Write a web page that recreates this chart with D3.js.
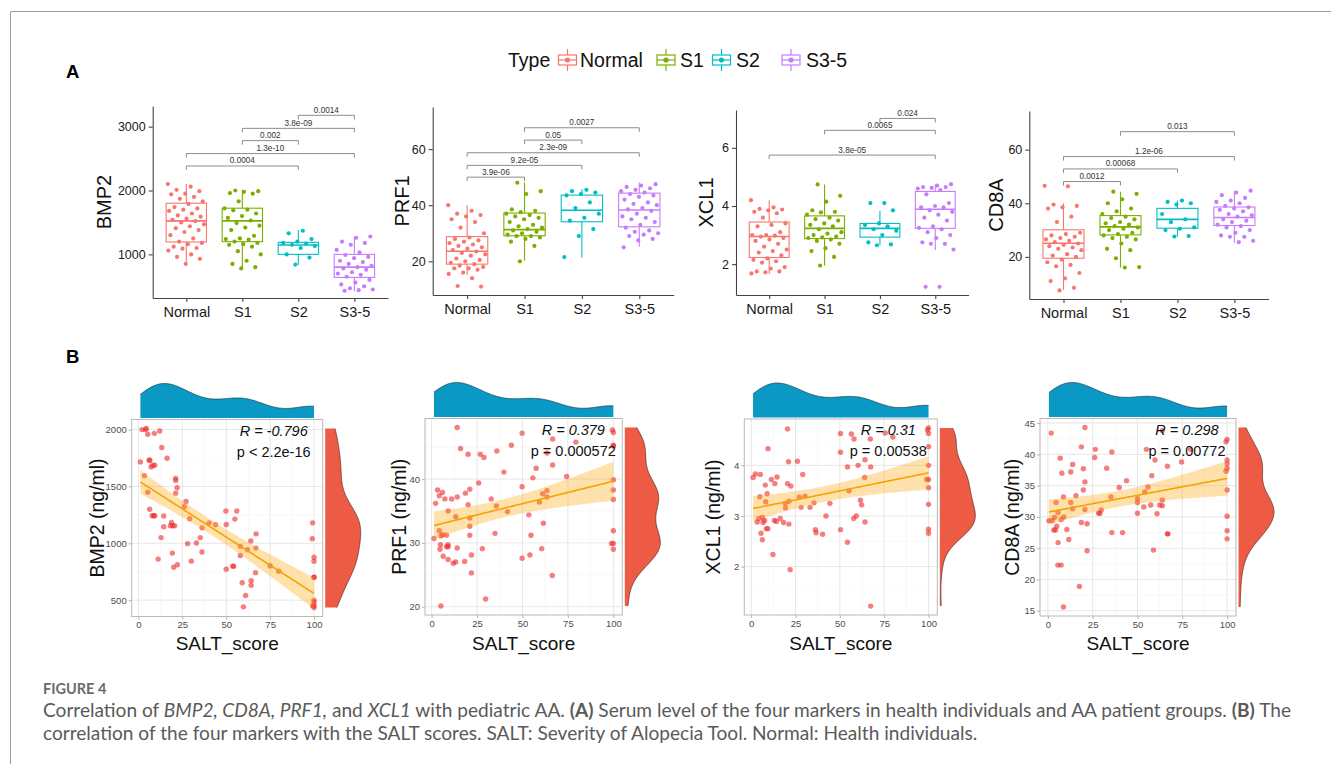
<!DOCTYPE html>
<html>
<head>
<meta charset="utf-8">
<script src="https://cdn.jsdelivr.net/npm/d3@7"></script>
<style>
  body { margin: 0; background: #fff; }
  svg { display: block; font-family: "Liberation Sans", Arial, sans-serif; }
</style>
</head>
<body>
<svg id="fig" width="1331" height="764"></svg>
<script>
// ---- groups ----
const groups = ["Normal", "S1", "S2", "S3-5"];
const groupColors = ["#F8766D", "#7CAE00", "#00BFC4", "#C77CFF"];

// ---- panel A: serum levels by group (points) ----
const bmp2Normal = [2100, 2060, 2010, 1990, 1950, 1940, 1900, 1870, 1830, 1790, 1740, 1720, 1700, 1680, 1640, 1610, 1590, 1560, 1540, 1520, 1500, 1470, 1440, 1410, 1380, 1350, 1300, 1250, 1200, 1180, 1160, 1120, 1100, 1090, 1060, 1000, 960, 930, 850];
const bmp2S1 = [2000, 1990, 1980, 1960, 1950, 1830, 1720, 1700, 1690, 1640, 1600, 1570, 1530, 1490, 1450, 1420, 1380, 1290, 1250, 1240, 1230, 1200, 1180, 1160, 1150, 1120, 1050, 1000, 900, 850, 800, 780];
const bmp2S2 = [1370, 1330, 1240, 1200, 1180, 1170, 1150, 1130, 1100, 1000, 950, 840];
const bmp2S35 = [1280, 1260, 1200, 1180, 1150, 1070, 1030, 990, 960, 940, 900, 880, 850, 820, 800, 780, 760, 720, 700, 680, 650, 600, 560, 530, 500, 470, 450, 440, 430];

const prf1Normal = [40, 38, 37, 36.5, 36, 35, 34, 32, 30, 28.5, 28, 27.5, 27, 26.5, 26, 25.5, 25, 24.5, 24, 23.5, 23, 22.5, 22, 21, 20.5, 20, 19.5, 19, 18.5, 18, 17.5, 17.5, 17, 16, 15.5, 14, 11.2, 11];
const prf1S1 = [48, 45, 44, 38.5, 38, 37.5, 37, 36.5, 36, 35.5, 35, 34, 33, 32.5, 32, 31.5, 31, 30.5, 30, 29.5, 29, 29, 28.5, 28, 27, 25.5, 20];
const prf1S2 = [45.5, 45, 44.5, 44, 43.5, 41, 39, 37, 35.5, 34.5, 31.5, 29, 21.5];
const prf1S35 = [47.5, 47, 46.5, 46, 45.5, 45, 44.5, 44, 43.5, 43, 42, 41, 40.5, 40, 39, 38.5, 38, 37, 36, 35.5, 35, 34, 33, 32, 31, 30.5, 30, 29.5, 29, 28, 27.5, 25];

const xcl1Normal = [4.2, 3.95, 3.9, 3.88, 3.85, 3.8, 3.75, 3.6, 3.4, 3.35, 3.3, 3.1, 3.0, 3.0, 2.98, 2.95, 2.9, 2.85, 2.8, 2.7, 2.6, 2.5, 2.45, 2.4, 2.3, 2.2, 2.15, 2.1, 2.05, 1.9, 1.85, 1.75, 1.75, 1.72, 1.68];
const xcl1S1 = [4.74, 4.35, 4.15, 3.85, 3.8, 3.78, 3.7, 3.6, 3.55, 3.5, 3.4, 3.35, 3.3, 3.2, 3.1, 3.05, 3.0, 2.95, 2.92, 2.9, 2.85, 2.8, 2.7, 2.55, 2.45, 2.25, 1.95];
const xcl1S2 = [4.1, 4.1, 3.85, 3.4, 3.35, 3.3, 3.2, 3.15, 3.0, 2.75, 2.68, 2.65];
const xcl1S35 = [4.75, 4.7, 4.65, 4.65, 4.62, 4.6, 4.55, 4.4, 4.1, 4.0, 3.95, 3.95, 3.85, 3.8, 3.7, 3.6, 3.5, 3.3, 3.25, 3.2, 3.1, 3.0, 2.9, 2.75, 2.7, 2.7, 2.5, 1.22, 1.22];

const cd8aNormal = [46.5, 46.3, 39.5, 39, 38.5, 38, 35, 33, 29, 28.5, 28, 27.5, 27, 26.5, 26, 25.5, 25, 24.5, 24, 23.5, 23, 22.5, 21, 20.5, 20, 19, 18, 17, 16.5, 14, 12, 11, 8.5, 7.5];
const cd8aS1 = [44.3, 43.5, 41.5, 40, 38, 37, 36, 35, 34.5, 34, 33, 32.5, 32, 31.5, 31, 30.5, 30, 29, 28.5, 28, 27.5, 27, 26.5, 25, 23, 22.5, 19.5, 16.2, 16];
const cd8aS2 = [41, 40.5, 40, 39.5, 36, 34, 33, 31, 30.5, 30, 27.8, 27.6];
const cd8aS35 = [44.7, 44, 43, 42, 41, 40.5, 40, 39, 38.5, 38, 37.5, 37, 36, 35.5, 35, 34, 33.5, 33, 32, 31.5, 31, 30, 29, 28, 27.5, 27.5, 26, 25.5];

// box stats per group: [q1, median, q3, lower whisker, upper whisker]
const bmp2Box = [[1194, 1524, 1801, 848, 2100], [1199, 1524, 1723, 780, 2010], [1000, 1147, 1188, 832, 1382], [639, 801, 1000, 424, 1277]];
const prf1Box = [[19.0, 23.6, 28.8, 15.1, 40], [29.1, 31.3, 37.2, 20.2, 48.1], [34.1, 38.2, 43.6, 21.4, 45.7], [32.3, 38.3, 44.3, 25.2, 48.1]];
const xcl1Box = [[2.23, 2.95, 3.45, 1.66, 4.2], [2.88, 3.23, 3.66, 1.95, 4.74], [2.93, 3.23, 3.40, 2.66, 3.83], [3.23, 3.89, 4.50, 2.49, 4.74]];
const cd8aBox = [[19.5, 25.1, 30.1, 7.7, 40], [28.2, 31.2, 35.4, 16.0, 44.3], [30.7, 34.0, 38.1, 27.6, 41], [31.7, 34.7, 38.6, 25.3, 44.7]];

// y ticks and comparison brackets [from, to, level, p label]
const bmp2Ticks = [1000, 2000, 3000];
const prf1Ticks = [20, 40, 60];
const xcl1Ticks = [2, 4, 6];
const cd8aTicks = [20, 40, 60];
const bmp2Pairs = [["Normal", "S2", 2384, "0.0004"], ["Normal", "S3-5", 2578, "1.3e-10"], ["S1", "S2", 2781, "0.002"], ["S1", "S3-5", 2973, "3.8e-09"], ["S2", "S3-5", 3177, "0.0014"]];
const prf1Pairs = [["Normal", "S1", 50, "3.9e-06"], ["Normal", "S2", 54.2, "9.2e-05"], ["Normal", "S3-5", 58.7, "2.3e-09"], ["S1", "S2", 63.2, "0.05"], ["S1", "S3-5", 67.6, "0.0027"]];
const xcl1Pairs = [["Normal", "S3-5", 5.75, "3.8e-05"], ["S1", "S3-5", 6.6, "0.0065"], ["S2", "S3-5", 7.01, "0.024"]];
const cd8aPairs = [["Normal", "S1", 48.1, "0.0012"], ["Normal", "S2", 52.8, "0.00068"], ["Normal", "S3-5", 57.4, "1.2e-06"], ["S1", "S3-5", 66.7, "0.013"]];

// ---- panel B: SALT score vs serum level ----
const saltBmp2 = [2.1, 4, 4.5, 5.3, 9.1, 12.1, 1.1, 6.1, 6.5, 7.2, 8.1, 9.3, 13.3, 16.3, 3.4, 5.3, 21.2, 21.2, 22, 21.2, 6.4, 7.8, 8.7, 9.3, 14.4, 14.4, 12.9, 18.8, 19.5, 20.6, 18.2, 27.1, 26.1, 29.2, 28, 19.3, 11.2, 22.2, 20.1, 30.1, 33, 35.2, 36.2, 36.2, 40.3, 43.9, 49.8, 50, 56, 54.9, 50, 53.8, 54.2, 58, 58, 62.1, 64, 67, 66.9, 59.1, 64.2, 64.2, 61, 59.8, 66.7, 75, 79.9, 99.2, 99, 100, 100, 100, 100, 100, 100, 99.2, 100, 100];
const bmp2Level = [2000, 2000, 2010, 1959, 1967, 1988, 1716, 1730, 1730, 1672, 1686, 1686, 1843, 1748, 1595, 1450, 1571, 1553, 1488, 1441, 1299, 1242, 1242, 1242, 1240, 1145, 1050, 1183, 1154, 1154, 1154, 1367, 1322, 1216, 997, 914, 861, 811, 790, 843, 1003, 1050, 923, 1136, 1180, 1163, 1284, 1165, 1284, 1213, 772, 799, 799, 973, 893, 944, 1021, 1083, 958, 653, 671, 630, 541, 441, 742, 802, 755, 1180, 1041, 878, 843, 701, 701, 500, 479, 450, 450, 435];

const saltPrf1 = [1.3, 2.2, 3.3, 4.2, 6, 7.3, 4.2, 5.1, 6.2, 8.2, 4.9, 4.6, 6.4, 8.2, 9.1, 9, 9.1, 9.1, 5.1, 11, 11.9, 13.3, 13.3, 14.1, 14.1, 15.9, 14.1, 18.2, 18.6, 20.1, 20.1, 21, 21, 21, 21, 21.9, 21.9, 25.9, 26.8, 28.8, 27.9, 29.7, 32.8, 35.9, 35.6, 34.9, 39.8, 41.8, 43.9, 49.8, 49.8, 49.8, 53.5, 54.1, 54.7, 55.7, 57.5, 61.1, 59.3, 60.6, 61.5, 63.5, 63.5, 63.5, 66.6, 66.6, 66.4, 74.3, 79.4, 99.5, 100, 100, 100, 100, 100, 100, 100, 99, 100, 100];
const prf1Level = [30.7, 36.2, 38.3, 37.4, 37.9, 36.9, 31.9, 31.1, 31.3, 31.2, 29.7, 29, 27.9, 29.4, 29.4, 29.7, 27.4, 35, 20.1, 36.9, 26.8, 27, 34.1, 37.2, 29.2, 44.8, 48.1, 27.1, 37.8, 36, 43.9, 38.4, 33.9, 32.6, 31.2, 28.1, 25.3, 39.4, 43.9, 43.4, 29.1, 21.2, 36.9, 44.4, 35.8, 31.5, 41.1, 34.9, 45.3, 47.2, 38.8, 27.6, 34.4, 28.1, 31.2, 40.2, 41.7, 37.7, 36.4, 29.1, 33.1, 44.1, 38.2, 37.2, 46.3, 42.2, 24.9, 40.4, 45.8, 47.7, 47.3, 45.3, 45.2, 39.9, 38.3, 36.8, 31.9, 29.9, 29.9, 29];

const saltXcl1 = [1.1, 2.4, 4.9, 3.4, 4.3, 5.2, 5.6, 6.3, 6.3, 6.7, 7.6, 8, 8.2, 9, 8.6, 9.5, 9.5, 11.4, 12.3, 13.4, 13.1, 14.6, 14.2, 16.4, 18.3, 19.2, 19.4, 20.5, 20.5, 21.1, 21.3, 21.3, 22, 22.4, 26.1, 27.2, 28.2, 29.1, 30.4, 33.2, 35.4, 36.2, 36.6, 40.3, 42.2, 44.4, 50.4, 50.4, 50.4, 54.3, 54.3, 55.2, 56.5, 58, 57.8, 59.3, 60.3, 61.6, 62.3, 64, 64.2, 64.2, 67.2, 67.4, 67.4, 75.6, 79.9, 99.4, 100, 100, 100, 100, 99, 100, 100, 100, 100, 100];
const xcl1Level = [3.76, 3.83, 3.38, 2.88, 2.95, 3.82, 2.66, 2.97, 2.53, 2.87, 2.91, 3.61, 3.28, 3.44, 2.75, 2.75, 4.33, 3.72, 2.24, 3.64, 2.91, 3.77, 2.89, 2.95, 2.87, 3.25, 3.16, 4.72, 3.64, 4.07, 3.29, 2.84, 1.94, 3.59, 4.08, 3.37, 3.17, 3.82, 3.39, 3.17, 3.26, 2.73, 2.67, 2.64, 3, 3.25, 4.63, 4.26, 2.73, 3.97, 2.48, 3.5, 4.62, 4.52, 2.95, 3, 4, 3.31, 3.22, 3.76, 4.11, 2.88, 4.52, 3.97, 1.22, 4.64, 4.56, 4.70, 4.74, 4.63, 4.37, 4.0, 3.72, 3.72, 3.56, 3.23, 2.74, 2.66];

const saltCd8a = [0.6, 1.9, 2.4, 3.3, 4.3, 3.7, 4.6, 5, 5.7, 5.7, 5.6, 7.4, 6.9, 7.8, 7.4, 8.7, 8.9, 8.7, 10.6, 11.7, 12.8, 12.8, 13.9, 13.9, 15.7, 17.6, 18.7, 18.7, 19.8, 19.8, 20.7, 20.7, 20.7, 21.9, 21.9, 26.5, 26.1, 28.3, 29.1, 29.8, 32.8, 35.7, 35.2, 35.7, 39.8, 41.7, 43.9, 50, 50, 50, 53.5, 54.1, 55, 55.9, 57.4, 58, 58.9, 59.8, 60.9, 62.4, 63.9, 63.9, 63.9, 66.7, 66.7, 67, 74.6, 79.6, 99.4, 100, 100, 100, 100, 99.4, 100, 100, 100, 100];
const cd8aLevel = [29.4, 43.4, 29.4, 27.9, 27.9, 29.9, 32.3, 28.5, 30.7, 25.9, 22.3, 22.3, 39.4, 37, 29.6, 33.2, 30, 15.6, 28, 26.4, 37.2, 32.3, 38.4, 31.3, 33.4, 18.9, 41.2, 29.1, 37.7, 34.3, 44.3, 35.6, 31.2, 28.9, 24.6, 40.8, 39.5, 30.6, 30.6, 31.1, 37.8, 40.4, 33.2, 27.5, 34.7, 27.5, 35.8, 32.9, 32.3, 30.6, 31.6, 34, 40.8, 34.8, 31.9, 36.6, 24.7, 39.1, 30.5, 31.9, 43.8, 32.7, 31.8, 38.1, 27.3, 27.3, 38.8, 40.8, 42, 42.4, 39.1, 38.5, 37.8, 37.3, 34.3, 30.1, 27.8, 26.5];

const saltTicks = [0, 25, 50, 75, 100];
const bmp2LevelTicks = [500, 1000, 1500, 2000];
const prf1LevelTicks = [20, 30, 40];
const xcl1LevelTicks = [2, 3, 4];
const cd8aLevelTicks = [15, 20, 25, 30, 35, 40, 45];
const corrLabels = [["R = -0.796", "p < 2.2e-16"], ["R = 0.379", "p = 0.000572"], ["R = 0.31", "p = 0.00538"], ["R = 0.298", "p = 0.00772"]];

const svg = d3.select("#fig");
const plain = d => String(d);

// figure frame (top + left rule)
svg.append("line").attr("x1", 10.5).attr("x2", 1331).attr("y1", 11.5).attr("y2", 11.5).attr("stroke", "#9a9a9a");
svg.append("line").attr("x1", 10.5).attr("x2", 10.5).attr("y1", 11.5).attr("y2", 764).attr("stroke", "#9a9a9a");

// panel letters
svg.append("text").attr("x", 66).attr("y", 77.5).attr("font-size", 18.5).attr("font-weight", "bold").text("A");
svg.append("text").attr("x", 66).attr("y", 363).attr("font-size", 18.5).attr("font-weight", "bold").text("B");

// ---- legend ----
const legend = svg.append("g");
legend.append("text").attr("x", 508).attr("y", 67).attr("font-size", 19.5).attr("fill", "#111").text("Type");
const legendKeyX = [567.5, 666, 721.5, 791];
const legendTextX = [580, 680, 736, 806];
groups.forEach((grp, i) => {
  const cx = legendKeyX[i], cy = 60, c = groupColors[i];
  const k = legend.append("g").attr("stroke", c).attr("stroke-width", 1.2);
  k.append("line").attr("x1", cx).attr("x2", cx).attr("y1", cy - 11).attr("y2", cy - 5);
  k.append("line").attr("x1", cx).attr("x2", cx).attr("y1", cy + 5).attr("y2", cy + 11);
  k.append("rect").attr("x", cx - 9).attr("y", cy - 5).attr("width", 18).attr("height", 10).attr("fill", "#fff");
  k.append("line").attr("x1", cx - 9).attr("x2", cx + 9).attr("y1", cy).attr("y2", cy);
  legend.append("circle").attr("cx", cx).attr("cy", cy).attr("r", 2.6).attr("fill", c);
  legend.append("text").attr("x", legendTextX[i]).attr("y", 67).attr("font-size", 19.5).attr("fill", "#111").text(grp);
});

// ---- panel A: box plots ----
function drawBoxPanel(cfg) {
  const g = svg.append("g");
  const x = d3.scalePoint().domain(groups).range([cfg.left, cfg.right]).padding(0.6);
  const y = d3.scaleLinear().domain(cfg.domain).range([cfg.bottom, cfg.top]);
  const step = x.step();
  const bw = step * 0.72;

  const xa = g.append("g").attr("transform", `translate(0,${cfg.bottom})`)
    .call(d3.axisBottom(x).tickSize(4).tickSizeOuter(0).tickPadding(5));
  xa.selectAll("text").attr("font-size", 14.5).attr("fill", "#1a1a1a").attr("font-family", "Liberation Sans, Arial, sans-serif");
  const ya = g.append("g").attr("transform", `translate(${cfg.left},0)`)
    .call(d3.axisLeft(y).tickValues(cfg.ticks).tickFormat(plain).tickSize(4).tickSizeOuter(0).tickPadding(3));
  ya.selectAll("text").attr("font-size", 12.5).attr("fill", "#1a1a1a").attr("font-family", "Liberation Sans, Arial, sans-serif");
  g.selectAll(".domain, .tick line").attr("stroke", "#444").attr("stroke-width", 1.1);

  g.append("text")
    .attr("transform", `translate(${cfg.titleX},${(cfg.top + cfg.bottom) / 2}) rotate(-90)`)
    .attr("text-anchor", "middle").attr("font-size", 20).attr("fill", "#111").text(cfg.title);

  // boxes
  cfg.box.forEach((b, i) => {
    const cx = x(groups[i]), c = groupColors[i];
    const bg = g.append("g").attr("stroke", c).attr("stroke-width", 1.1).attr("fill", "none");
    bg.append("line").attr("x1", cx).attr("x2", cx).attr("y1", y(b[3])).attr("y2", y(b[0]));
    bg.append("line").attr("x1", cx).attr("x2", cx).attr("y1", y(b[2])).attr("y2", y(b[4]));
    bg.append("rect").attr("x", cx - bw / 2).attr("width", bw)
      .attr("y", y(b[2])).attr("height", y(b[0]) - y(b[2])).attr("fill", "#fff");
    bg.append("line").attr("x1", cx - bw / 2).attr("x2", cx + bw / 2)
      .attr("y1", y(b[1])).attr("y2", y(b[1])).attr("stroke-width", 1.6);
  });

  // jittered points
  cfg.values.forEach((vals, i) => {
    const cx = x(groups[i]);
    g.append("g").selectAll("circle").data(vals).join("circle")
      .attr("cx", (d, j) => cx + (((j * 0.6180339887 + i * 0.31) % 1) - 0.5) * step * 0.66)
      .attr("cy", d => y(d))
      .attr("r", 2.1)
      .attr("fill", groupColors[i]);
  });

  // significance brackets
  cfg.pairs.forEach(p => {
    const x1 = x(p[0]), x2 = x(p[1]), yy = y(p[2]);
    g.append("path").attr("d", `M${x1},${yy + 4}V${yy}H${x2}V${yy + 4}`)
      .attr("fill", "none").attr("stroke", "#808080").attr("stroke-width", 0.9);
    g.append("text").attr("x", (x1 + x2) / 2).attr("y", yy - 2.5).attr("text-anchor", "middle")
      .attr("font-size", 8.2).attr("fill", "#333").text(p[3]);
  });
}

drawBoxPanel({ left: 152.7, right: 388, top: 106, bottom: 298, domain: [317, 3323], ticks: bmp2Ticks, title: "BMP2", titleX: 110.7,
  box: bmp2Box, values: [bmp2Normal, bmp2S1, bmp2S2, bmp2S35], pairs: bmp2Pairs });
drawBoxPanel({ left: 432.7, right: 673.7, top: 107, bottom: 295, domain: [8, 75], ticks: prf1Ticks, title: "PRF1", titleX: 409,
  box: prf1Box, values: [prf1Normal, prf1S1, prf1S2, prf1S35], pairs: prf1Pairs });
drawBoxPanel({ left: 736, right: 968.5, top: 110, bottom: 295, domain: [0.94, 7.3], ticks: xcl1Ticks, title: "XCL1", titleX: 712.7,
  box: xcl1Box, values: [xcl1Normal, xcl1S1, xcl1S2, xcl1S35], pairs: xcl1Pairs });
drawBoxPanel({ left: 1029.3, right: 1268.6, top: 111, bottom: 299, domain: [4.3, 74.4], ticks: cd8aTicks, title: "CD8A", titleX: 1003,
  box: cd8aBox, values: [cd8aNormal, cd8aS1, cd8aS2, cd8aS35], pairs: cd8aPairs });

// ---- panel B: scatter + regression + marginal densities ----
function bwNrd0(v) {
  const s = v.slice().sort(d3.ascending);
  const sd = d3.deviation(s);
  const iqr = d3.quantileSorted(s, 0.75) - d3.quantileSorted(s, 0.25);
  const lo = Math.min(sd, iqr / 1.34) || sd;
  return 0.9 * lo * Math.pow(s.length, -0.2);
}
function kde(v) {
  const bw = bwNrd0(v), e = d3.extent(v);
  return d3.range(256).map(k => {
    const t = e[0] + (e[1] - e[0]) * k / 255;
    return [t, d3.mean(v, d => Math.exp(-0.5 * ((t - d) / bw) ** 2)) / bw];
  });
}
function minorBreaks(ticks, dom) {
  const st = ticks[1] - ticks[0];
  const m = [ticks[0] - st / 2].concat(ticks.map(t => t + st / 2));
  return m.filter(v => v > dom[0] && v < dom[1]);
}

function drawScatterPanel(cfg) {
  const g = svg.append("g");
  const xs = cfg.salt, ys = cfg.level;
  const xe = d3.extent(xs), ye = d3.extent(ys);
  const xp = (xe[1] - xe[0]) * 0.05, yp = (ye[1] - ye[0]) * 0.05;
  const x = d3.scaleLinear().domain([xe[0] - xp, xe[1] + xp]).range([cfg.left, cfg.right]);
  const y = d3.scaleLinear().domain([ye[0] - yp, ye[1] + yp]).range([cfg.bottom, cfg.top]);

  // grid
  const grid = g.append("g");
  minorBreaks(saltTicks, x.domain()).forEach(v => grid.append("line").attr("x1", x(v)).attr("x2", x(v))
    .attr("y1", cfg.top).attr("y2", cfg.bottom).attr("stroke", "#f3f3f3").attr("stroke-width", 0.6));
  minorBreaks(cfg.ticks, y.domain()).forEach(v => grid.append("line").attr("y1", y(v)).attr("y2", y(v))
    .attr("x1", cfg.left).attr("x2", cfg.right).attr("stroke", "#f3f3f3").attr("stroke-width", 0.6));
  saltTicks.forEach(v => grid.append("line").attr("x1", x(v)).attr("x2", x(v))
    .attr("y1", cfg.top).attr("y2", cfg.bottom).attr("stroke", "#e4e4e4").attr("stroke-width", 0.9));
  cfg.ticks.forEach(v => grid.append("line").attr("y1", y(v)).attr("y2", y(v))
    .attr("x1", cfg.left).attr("x2", cfg.right).attr("stroke", "#e4e4e4").attr("stroke-width", 0.9));

  // axes (ticks + labels only)
  const xa = g.append("g").attr("transform", `translate(0,${cfg.bottom})`)
    .call(d3.axisBottom(x).tickValues(saltTicks).tickFormat(plain).tickSize(3).tickPadding(2));
  const ya = g.append("g").attr("transform", `translate(${cfg.left},0)`)
    .call(d3.axisLeft(y).tickValues(cfg.ticks).tickFormat(plain).tickSize(3).tickPadding(2));
  [xa, ya].forEach(a => {
    a.select(".domain").remove();
    a.selectAll(".tick line").attr("stroke", "#b3b3b3");
    a.selectAll("text").attr("font-size", 9.5).attr("fill", "#4d4d4d").attr("font-family", "Liberation Sans, Arial, sans-serif");
  });

  // regression fit with 95% band
  const n = xs.length, mx = d3.mean(xs), my = d3.mean(ys);
  const sxx = d3.sum(xs, v => (v - mx) ** 2);
  const sxy = d3.sum(xs, (v, i) => (v - mx) * (ys[i] - my));
  const b = sxy / sxx, a = my - b * mx;
  const s = Math.sqrt(d3.sum(xs, (v, i) => (ys[i] - a - b * v) ** 2) / (n - 2));
  const tq = 1.99;
  const fit = d3.range(81).map(k => {
    const v = xe[0] + (xe[1] - xe[0]) * k / 80;
    const se = s * Math.sqrt(1 / n + (v - mx) ** 2 / sxx);
    return { v, f: a + b * v, lo: a + b * v - tq * se, hi: a + b * v + tq * se };
  });

  // points
  g.append("g").selectAll("circle").data(xs).join("circle")
    .attr("cx", d => x(d)).attr("cy", (d, i) => y(ys[i])).attr("r", 2.7)
    .attr("fill", "#ee2a2a").attr("fill-opacity", 0.6);

  g.append("path").datum(fit)
    .attr("d", d3.area().x(d => x(d.v)).y0(d => y(d.lo)).y1(d => y(d.hi)))
    .attr("fill", "#ffa500").attr("fill-opacity", 0.33);
  g.append("path").datum(fit)
    .attr("d", d3.line().x(d => x(d.v)).y(d => y(d.f)))
    .attr("fill", "none").attr("stroke", "#f5a300").attr("stroke-width", 1.6);

  // panel border
  g.append("rect").attr("x", cfg.left).attr("y", cfg.top).attr("width", cfg.right - cfg.left)
    .attr("height", cfg.bottom - cfg.top).attr("fill", "none").attr("stroke", "#b8b8b8").attr("stroke-width", 1);

  // correlation text
  const cx = cfg.right - 49;
  g.append("text").attr("x", cx).attr("y", cfg.top + 16).attr("text-anchor", "middle")
    .attr("font-size", 14.5).attr("font-style", "italic").attr("fill", "#111").text(cfg.labels[0]);
  g.append("text").attr("x", cx).attr("y", cfg.top + 37).attr("text-anchor", "middle")
    .attr("font-size", 14.5).attr("fill", "#111").text(cfg.labels[1]);

  // axis titles
  g.append("text").attr("x", (cfg.left + cfg.right) / 2).attr("y", 650).attr("text-anchor", "middle")
    .attr("font-size", 19).attr("fill", "#111").text("SALT_score");
  g.append("text").attr("transform", `translate(${cfg.titleX},${(cfg.top + cfg.bottom) / 2}) rotate(-90)`)
    .attr("text-anchor", "middle").attr("font-size", 19.5).attr("fill", "#111").text(cfg.title);

  // top marginal density (SALT score)
  const dx = kde(xs);
  const hy = d3.scaleLinear().domain([0, d3.max(dx, d => d[1])]).range([cfg.top - 1.5, cfg.top - 36]);
  g.append("path").datum(dx)
    .attr("d", d3.area().x(d => x(d[0])).y0(hy(0)).y1(d => hy(d[1])))
    .attr("fill", "#0a98c4");
  g.append("path").datum(dx)
    .attr("d", d3.line().x(d => x(d[0])).y(d => hy(d[1])))
    .attr("fill", "none").attr("stroke", "#1d3a48").attr("stroke-width", 0.7);

  // right marginal density (level)
  const dy = kde(ys);
  const wx = d3.scaleLinear().domain([0, d3.max(dy, d => d[1])]).range([cfg.right + 2.5, cfg.right + 38]);
  g.append("path").datum(dy)
    .attr("d", d3.area().y(d => y(d[0])).x0(wx(0)).x1(d => wx(d[1])))
    .attr("fill", "#ee5b45");
  g.append("path").datum(dy)
    .attr("d", d3.line().y(d => y(d[0])).x(d => wx(d[1])))
    .attr("fill", "none").attr("stroke", "#4a2a25").attr("stroke-width", 0.7);
}

drawScatterPanel({ left: 131.7, right: 322.7, top: 419.5, bottom: 616.5, salt: saltBmp2, level: bmp2Level,
  ticks: bmp2LevelTicks, title: "BMP2 (ng/ml)", titleX: 104, labels: corrLabels[0] });
drawScatterPanel({ left: 425, right: 622.3, top: 418.5, bottom: 615, salt: saltPrf1, level: prf1Level,
  ticks: prf1LevelTicks, title: "PRF1 (ng/ml)", titleX: 406, labels: corrLabels[1] });
drawScatterPanel({ left: 744.3, right: 937.3, top: 419, bottom: 615, salt: saltXcl1, level: xcl1Level,
  ticks: xcl1LevelTicks, title: "XCL1 (ng/ml)", titleX: 720, labels: corrLabels[2] });
drawScatterPanel({ left: 1040, right: 1236, top: 418.5, bottom: 616, salt: saltCd8a, level: cd8aLevel,
  ticks: cd8aLevelTicks, title: "CD8A (ng/ml)", titleX: 1019, labels: corrLabels[3] });

// ---- caption ----
const cap = svg.append("g").attr("font-family", "Lato, 'Open Sans', sans-serif");
cap.append("text").attr("x", 43).attr("y", 694).attr("font-size", 14.5).attr("font-weight", "bold")
  .attr("fill", "#6b6b6b").text("FIGURE 4");
const line1 = cap.append("text").attr("x", 43).attr("y", 717).attr("font-size", 16).attr("fill", "#5a5a5a");
[["Correlation of ", null], ["BMP2, CD8A, PRF1,", "i"], [" and ", null], ["XCL1", "i"], [" with pediatric AA. ", null],
 ["(A)", "b"], [" Serum level of the four markers in health individuals and AA patient groups. ", null], ["(B)", "b"], [" The", null]]
  .forEach(([t, st]) => {
    const ts = line1.append("tspan").text(t);
    if (st === "i") ts.attr("font-style", "italic");
    if (st === "b") ts.attr("font-weight", "bold");
  });
const line2 = cap.append("text").attr("x", 43).attr("y", 740).attr("font-size", 16).attr("fill", "#5a5a5a")
  .text("correlation of the four markers with the SALT scores. SALT: Severity of Alopecia Tool. Normal: Health individuals.");
const w1 = line1.node().getComputedTextLength();
const fs = 16 * 1249 / w1;
line1.attr("font-size", fs);
line2.attr("font-size", fs);
</script>
</body>
</html>
